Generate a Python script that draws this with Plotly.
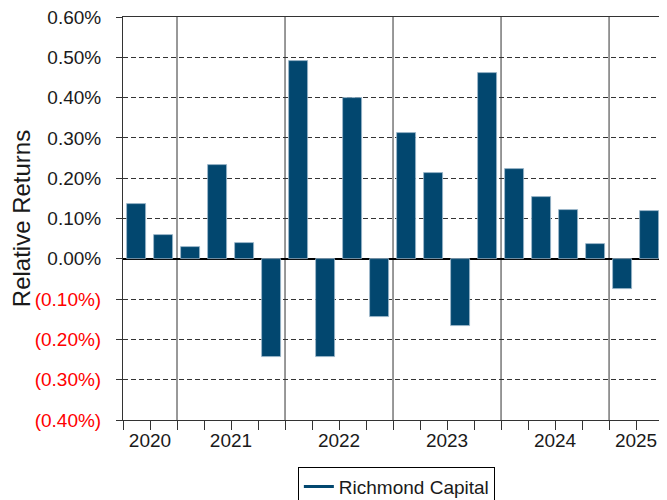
import plotly.graph_objects as go

# quarterly relative returns (%), 2020 Q3 .. 2025 Q2
quarters = [
    "2020 Q3", "2020 Q4",
    "2021 Q1", "2021 Q2", "2021 Q3", "2021 Q4",
    "2022 Q1", "2022 Q2", "2022 Q3", "2022 Q4",
    "2023 Q1", "2023 Q2", "2023 Q3", "2023 Q4",
    "2024 Q1", "2024 Q2", "2024 Q3", "2024 Q4",
    "2025 Q1", "2025 Q2",
]
relative_returns = [
    0.136, 0.058,
    0.030, 0.234, 0.039, -0.244,
    0.491, -0.244, 0.400, -0.145,
    0.311, 0.213, -0.166, 0.460,
    0.223, 0.154, 0.122, 0.037,
    -0.074, 0.118,
]
series_name = "Richmond Capital"
y_tick_values = [0.6, 0.5, 0.4, 0.3, 0.2, 0.1, 0.0, -0.1, -0.2, -0.3, -0.4]
y_tick_labels = ["0.60%", "0.50%", "0.40%", "0.30%", "0.20%", "0.10%", "0.00%",
                 "(0.10%)", "(0.20%)", "(0.30%)", "(0.40%)"]

BAR_COLOR = "#02476F"
FONT = "Arial, Liberation Sans, sans-serif"

x_pos = list(range(len(quarters)))
years = [q.split()[0] for q in quarters]
year_names = list(dict.fromkeys(years))
year_centers = [
    sum(i for i, y in enumerate(years) if y == yr) / years.count(yr) for yr in year_names
]
boundaries = [i - 0.5 for i in range(len(quarters) + 1)]
separators = [i - 0.5 for i in range(1, len(quarters)) if years[i] != years[i - 1]]

tick_text = [
    f'<span style="color:#FF0000">{t}</span>' if v < 0 else t
    for v, t in zip(y_tick_values, y_tick_labels)
]

fig = go.Figure()
fig.add_trace(
    go.Bar(
        x=x_pos,
        y=relative_returns,
        width=0.71,
        marker=dict(color=BAR_COLOR, line=dict(color="#9db8cc", width=0.8)),
        hovertext=quarters,
        showlegend=False,
    )
)
# legend entry drawn as a line, like the original
fig.add_trace(
    go.Scatter(
        x=[None], y=[None], mode="lines", name=series_name,
        line=dict(color=BAR_COLOR, width=3),
    )
)

for s in separators:
    fig.add_shape(
        type="line", xref="x", yref="paper", x0=s, x1=s, y0=0, y1=1,
        line=dict(color="#333333", width=1), layer="below",
    )

# page body adds an 8px margin, so the figure is kept inside the window
fig.update_layout(
    width=651,
    height=492,
    margin=dict(l=115, r=0, t=9, b=80, autoexpand=False),
    plot_bgcolor="white",
    paper_bgcolor="white",
    font=dict(family=FONT, size=19, color="#1a1a1a"),
    showlegend=True,
    legend=dict(
        x=0.51, xanchor="center", y=-0.116, yanchor="top",
        bordercolor="#000000", borderwidth=1, font=dict(size=19),
        itemwidth=30,
    ),
    bargap=0,
)

fig.update_xaxes(
    automargin=False,
    range=[-0.5, 19.35],
    tickmode="array",
    tickvals=year_centers,
    ticktext=year_names,
    ticks="outside",
    ticklen=3,
    tickcolor="#333333",
    ticklabeloverflow="allow",
    showline=True,
    linecolor="#333333",
    linewidth=1,
    mirror=True,
    showgrid=False,
    zeroline=False,
    minor=dict(tickvals=boundaries, ticks="outside", ticklen=9, tickcolor="#333333", showgrid=False),
)

fig.update_yaxes(
    automargin=False,
    range=[-0.4, 0.6],
    tickmode="array",
    tickvals=y_tick_values,
    ticktext=tick_text,
    ticks="outside",
    ticklen=6,
    tickcolor="#333333",
    ticklabelstandoff=11,
    ticklabeloverflow="allow",
    showline=True,
    linecolor="#333333",
    linewidth=1,
    showgrid=True,
    gridcolor="#333333",
    gridwidth=1,
    griddash="5px,3px",
    zeroline=True,
    zerolinecolor="#000000",
    zerolinewidth=2,
    title=dict(text="Relative Returns", font=dict(size=24), standoff=8),
)

fig.write_html("out.html")
